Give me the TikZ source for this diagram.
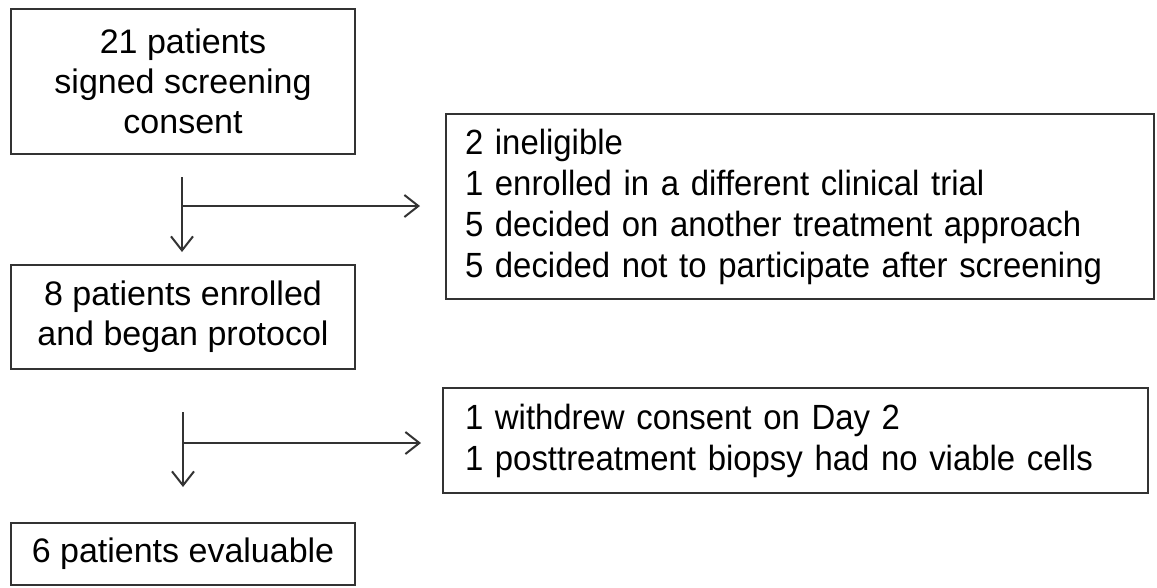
\documentclass[tikz,border=0pt]{standalone}
\usepackage{fontspec}
\setmainfont{Liberation Sans}
\newfontfamily\narrowfont[FakeStretch=0.94]{Liberation Sans}
\usetikzlibrary{arrows.meta}
\tikzset{
  box/.style={draw=black!80, line width=1.8pt, inner sep=0pt, font=\fontsize{34}{40}\selectfont},
  lbox/.style={box, align=center},
  rbox/.style={box, align=left, font=\narrowfont\fontsize{35}{41}\selectfont},
  flow/.style={draw=black!80, line width=2pt, -{Straight Barb[length=14pt,width=22pt,line width=2pt]}},
}
\begin{document}
\begin{tikzpicture}[x=1pt,y=-1pt]
\useasboundingbox (0,0) rectangle (1157,587);
\node[lbox, minimum width=344pt, minimum height=145pt] (A) at (183,81.5)
  {21 patients\\signed screening\\consent};
\node[lbox, minimum width=344pt, minimum height=104pt] (B) at (183,317)
  {8 patients enrolled\\and began protocol};
\node[lbox, minimum width=344pt, minimum height=62pt] (C) at (183,554)
  {6 patients evaluable};
\node[rbox, text width=670pt, inner xsep=19pt, minimum height=185pt] (D) at (800,206.5)
  {2 ineligible\\1 enrolled in a different clinical trial\\5 decided on another treatment approach\\5 decided not to participate after screening};
\node[rbox, text width=661pt, inner xsep=22pt, minimum height=105pt] (E) at (795.5,440.5)
  {1 withdrew consent on Day 2\\1 posttreatment biopsy had no viable cells};
\coordinate (v1s) at (182,177);
\coordinate (v1e) at (182,252);
\coordinate (h1s) at (182,206);
\coordinate (h1e) at (420,206);
\coordinate (v2s) at (183,412);
\coordinate (v2e) at (183,487);
\coordinate (h2s) at (183,443);
\coordinate (h2e) at (421,443);
\draw[flow] (v1s) -- (v1e);
\draw[flow] (h1s) -- (h1e);
\draw[flow] (v2s) -- (v2e);
\draw[flow] (h2s) -- (h2e);
\end{tikzpicture}
\end{document}
